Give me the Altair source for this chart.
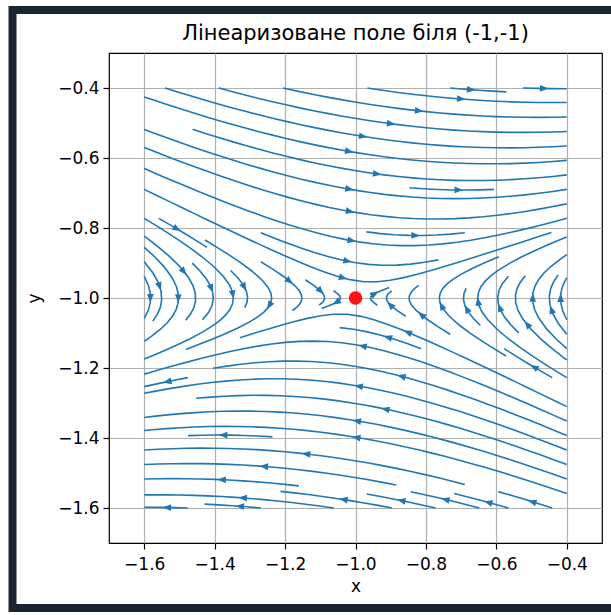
import math
import numpy as np
import pandas as pd
import altair as alt

# ---- data: linearised field about the equilibrium ----
equilibrium_x = [-1.0]
equilibrium_y = [-1.0]
jacobian = [[0.0, 6.0],
            [1.0, -1.0]]
grid_x_range = [-1.6, -0.4]
grid_y_range = [-1.6, -0.4]
grid_points = 30
tick_values = [-1.6, -1.4, -1.2, -1.0, -0.8, -0.6, -0.4]
axis_domain = [-1.7, -0.3]
title_text = "Лінеаризоване поле біля (-1,-1)"

xs = np.linspace(grid_x_range[0], grid_x_range[1], grid_points)
ys = np.linspace(grid_y_range[0], grid_y_range[1], grid_points)
X, Y = np.meshgrid(xs, ys)
DX = X - equilibrium_x[0]
DY = Y - equilibrium_y[0]
U = jacobian[0][0] * DX + jacobian[0][1] * DY
V = jacobian[1][0] * DX + jacobian[1][1] * DY


# ---- streamline tracing (same scheme as matplotlib's streamplot) ----
class OutOfBounds(IndexError):
    pass


class InvalidIndexError(Exception):
    pass


class TerminateTrajectory(Exception):
    pass


def trace_streamlines(xs, ys, U, V, density=1, minlength=0.1, maxlength=4.0):
    nx, ny = len(xs), len(ys)
    dx = xs[1] - xs[0]
    dy = ys[1] - ys[0]
    mnx = mny = int(30 * density)
    mask = np.zeros((mny, mnx))
    state = {"cur": None, "traj": []}
    xg2m = (mnx - 1) / (nx - 1)
    yg2m = (mny - 1) / (ny - 1)

    def within(xi, yi):
        return 0 <= xi <= nx - 1 and 0 <= yi <= ny - 1

    def grid2mask(xi, yi):
        return round(xi * xg2m), round(yi * yg2m)

    def mupdate(xm, ym):
        if state["cur"] != (xm, ym):
            if mask[ym, xm] == 0:
                state["traj"].append((ym, xm))
                mask[ym, xm] = 1
                state["cur"] = (xm, ym)
            else:
                raise InvalidIndexError

    def start(xg, yg):
        state["traj"] = []
        mupdate(*grid2mask(xg, yg))

    def reset(xg, yg):
        state["cur"] = grid2mask(xg, yg)

    def update_traj(xg, yg):
        if not within(xg, yg):
            raise InvalidIndexError
        mupdate(*grid2mask(xg, yg))

    def undo():
        for t in state["traj"]:
            mask[t] = 0

    ug = U / dx
    vg = V / dy
    speed = np.sqrt((ug / (nx - 1)) ** 2 + (vg / (ny - 1)) ** 2)

    def interp(a, xi, yi):
        x = int(xi)
        y = int(yi)
        xn = x if x == nx - 1 else x + 1
        yn = y if y == ny - 1 else y + 1
        xt = xi - x
        yt = yi - y
        a0 = a[y, x] * (1 - xt) + a[y, xn] * xt
        a1 = a[yn, x] * (1 - xt) + a[yn, xn] * xt
        return a0 * (1 - yt) + a1 * yt

    def fwd(xi, yi):
        if not within(xi, yi):
            raise OutOfBounds
        s = interp(speed, xi, yi)
        if s == 0:
            raise TerminateTrajectory
        return interp(ug, xi, yi) / s, interp(vg, xi, yi) / s

    def bwd(xi, yi):
        a, b = fwd(xi, yi)
        return -a, -b

    def euler(traj, f):
        xi, yi = traj[-1]
        cx, cy = f(xi, yi)
        if cx == 0:
            dsx = math.inf
        elif cx < 0:
            dsx = xi / -cx
        else:
            dsx = (nx - 1 - xi) / cx
        if cy == 0:
            dsy = math.inf
        elif cy < 0:
            dsy = yi / -cy
        else:
            dsy = (ny - 1 - yi) / cy
        ds = min(dsx, dsy)
        traj.append((xi + cx * ds, yi + cy * ds))
        return ds, traj

    def rk12(x0, y0, f):
        maxerror = 0.003
        maxds = min(1.0 / mnx, 1.0 / mny, 0.1)
        ds = maxds
        stotal = 0.0
        xi, yi = x0, y0
        traj = []
        while True:
            try:
                if within(xi, yi):
                    traj.append((xi, yi))
                else:
                    raise OutOfBounds
                k1x, k1y = f(xi, yi)
                k2x, k2y = f(xi + ds * k1x, yi + ds * k1y)
            except OutOfBounds:
                if traj:
                    ds, traj = euler(traj, f)
                    stotal += ds
                break
            except TerminateTrajectory:
                break
            dx1 = ds * k1x
            dy1 = ds * k1y
            dx2 = ds * 0.5 * (k1x + k2x)
            dy2 = ds * 0.5 * (k1y + k2y)
            error = math.hypot((dx2 - dx1) / (nx - 1), (dy2 - dy1) / (ny - 1))
            if error < maxerror:
                xi += dx2
                yi += dy2
                try:
                    update_traj(xi, yi)
                except InvalidIndexError:
                    break
                if stotal + ds > maxlength:
                    break
                stotal += ds
            if error == 0:
                ds = maxds
            else:
                ds = min(maxds, 0.85 * ds * (maxerror / error) ** 0.5)
        return stotal, traj

    def integrate(x0, y0):
        stotal = 0.0
        xy = []
        try:
            start(x0, y0)
        except InvalidIndexError:
            return None
        s, t = rk12(x0, y0, bwd)
        stotal += s
        xy += t[::-1]
        reset(x0, y0)
        s, t = rk12(x0, y0, fwd)
        stotal += s
        xy += t[1:]
        if stotal > minlength:
            return np.array(xy)
        undo()
        return None

    def gen_start(shape):
        ny_, nx_ = shape
        xfirst, yfirst = 0, 1
        xlast, ylast = nx_ - 1, ny_ - 1
        x, y = 0, 0
        direction = "right"
        for _ in range(nx_ * ny_):
            yield x, y
            if direction == "right":
                x += 1
                if x >= xlast:
                    xlast -= 1
                    direction = "up"
            elif direction == "up":
                y += 1
                if y >= ylast:
                    ylast -= 1
                    direction = "left"
            elif direction == "left":
                x -= 1
                if x <= xfirst:
                    xfirst += 1
                    direction = "down"
            elif direction == "down":
                y -= 1
                if y <= yfirst:
                    yfirst += 1
                    direction = "right"

    trajectories = []
    for xm, ym in gen_start(mask.shape):
        if mask[ym, xm] == 0:
            t = integrate(xm / xg2m, ym / yg2m)
            if t is not None:
                trajectories.append(t)

    out = []
    for t in trajectories:
        tx = t[:, 0] * dx + xs[0]
        ty = t[:, 1] * dy + ys[0]
        out.append((tx, ty))
    return out


streams = trace_streamlines(xs, ys, U, V)

line_rows = []
arrow_rows = []
for k, (tx, ty) in enumerate(streams):
    for i in range(len(tx)):
        line_rows.append({"line": k, "order": i, "x": tx[i], "y": ty[i]})
    s = np.cumsum(np.hypot(np.diff(tx), np.diff(ty)))
    n = int(np.searchsorted(s, s[-1] / 2.0))
    hx, hy = np.mean(tx[n:n + 2]), np.mean(ty[n:n + 2])
    ddx, ddy = hx - tx[n], hy - ty[n]
    if ddx == 0 and ddy == 0:
        continue
    ang = math.degrees(math.atan2(ddx * 352.0, ddy * 350.0)) % 360.0
    arrow_rows.append({"x": hx, "y": hy, "angle": ang})

lines_df = pd.DataFrame(line_rows)
arrows_df = pd.DataFrame(arrow_rows)
eq_df = pd.DataFrame({"x": equilibrium_x, "y": equilibrium_y})

FONT = "DejaVu Sans"
xscale = alt.Scale(domain=axis_domain, nice=False, zero=False)
yscale = alt.Scale(domain=axis_domain, nice=False, zero=False)

x_axis = alt.Axis(values=tick_values, format=".1f", title="x", grid=True,
                  gridColor="#b0b0b0", gridWidth=1.2, domain=False,
                  tickSize=6, tickWidth=1.2, tickColor="#000000",
                  labelFont=FONT, labelFontSize=17, labelColor="#000000",
                  labelPadding=7, titleFont=FONT, titleFontSize=17,
                  titleFontWeight="normal", titleColor="#000000", titlePadding=6)
y_axis = alt.Axis(values=tick_values, format=".1f", title="y", grid=True,
                  gridColor="#b0b0b0", gridWidth=1.2, domain=False,
                  tickSize=6, tickWidth=1.2, tickColor="#000000",
                  labelFont=FONT, labelFontSize=17, labelColor="#000000",
                  labelPadding=4, titleFont=FONT, titleFontSize=17,
                  titleFontWeight="normal", titleColor="#000000", titlePadding=14)

frame = alt.Chart(eq_df).mark_rect(fill=None, stroke="#1b2530", strokeWidth=8).encode(
    x=alt.value(12.5 - 109), x2=alt.value(660 - 109),
    y=alt.value(10 - 53), y2=alt.value(608 - 53))

lines = alt.Chart(lines_df).mark_line(color="#1f77b4", strokeWidth=1.6, clip=True).encode(
    x=alt.X("x:Q", scale=xscale, axis=x_axis),
    y=alt.Y("y:Q", scale=yscale, axis=y_axis),
    detail="line:N",
    order="order:Q",
)

arrows = alt.Chart(arrows_df).mark_point(
    shape="M0,-1L0.8,1L-0.8,1Z", filled=True, fill="#1f77b4", strokeWidth=0,
    size=72, opacity=1).encode(
    x=alt.X("x:Q", scale=xscale),
    y=alt.Y("y:Q", scale=yscale),
    angle=alt.Angle("angle:Q", scale=None),
)

dot = alt.Chart(eq_df).mark_circle(color="#ff0000", size=180, opacity=0.92).encode(
    x=alt.X("x:Q", scale=xscale),
    y=alt.Y("y:Q", scale=yscale),
)

chart = alt.layer(frame, lines, arrows, dot).properties(
    width=493, height=490,
    title=alt.TitleParams(title_text, font=FONT, fontSize=21, fontWeight="normal",
                          color="#000000", anchor="middle", frame="group",
                          baseline="alphabetic", offset=0, dy=55),
    autosize=alt.AutoSizeParams(type="none"),
    padding={"left": 109, "top": 53, "right": 9, "bottom": 72},
    background="#ffffff",
).configure_view(stroke="#000000", strokeWidth=1.2)

chart.save("out.html", embed_options={"renderer": "svg", "actions": False})
